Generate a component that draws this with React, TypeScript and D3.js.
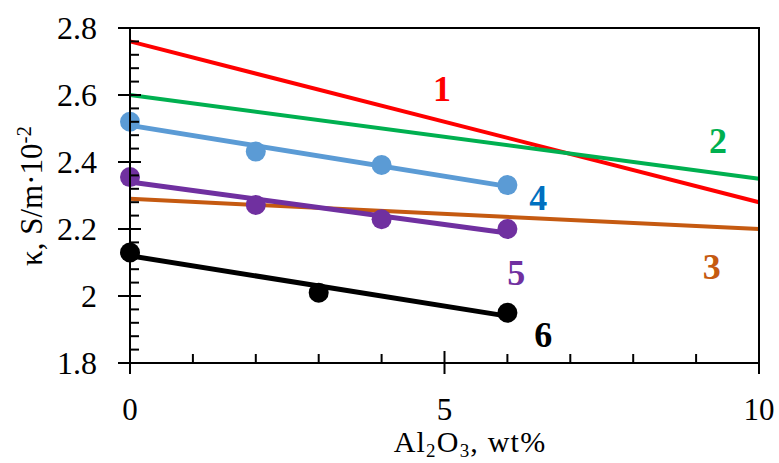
import React from "react";
import * as d3 from "d3";

// ---- data ----
const lineX = [0, 10];
const series1 = [2.76, 2.28];
const series2 = [2.6, 2.35];
const series3 = [2.29, 2.2];

const pointsX4 = [0, 2, 4, 6];
const series4 = [2.52, 2.431, 2.391, 2.331];
const pointsX5 = [0, 2, 4, 6];
const series5 = [2.355, 2.272, 2.229, 2.2];
const pointsX6 = [0, 3, 6];
const series6 = [2.13, 2.01, 1.95];

const xMajorTicks = [0, 5, 10];
const xMinorTicks = [1, 2, 3, 4, 6, 7, 8, 9];
const yMajorTicks = [1.8, 2, 2.2, 2.4, 2.6, 2.8];
const yTickLabels = ["1.8", "2", "2.2", "2.4", "2.6", "2.8"];

const labelNames = ["1", "2", "3", "4", "5", "6"];
const labelX = [4.96, 9.35, 9.25, 6.49, 6.14, 6.57];
const labelY = [2.621, 2.464, 2.087, 2.293, 2.069, 1.884];

const colors = ["#FF0000", "#00B050", "#C55A11", "#5B9BD5", "#7030A0", "#000000"];
const labelColors = ["#FF0000", "#00B050", "#C55A11", "#0070C0", "#7030A0", "#000000"];

const FONT = "'Liberation Serif', 'DejaVu Serif', serif";

function fit(xs: number[], ys: number[]) {
  const mx = d3.mean(xs) as number;
  const my = d3.mean(ys) as number;
  let num = 0, den = 0;
  xs.forEach((x, i) => { num += (x - mx) * (ys[i] - my); den += (x - mx) ** 2; });
  const b = num / den;
  const a = my - b * mx;
  const x0 = d3.min(xs) as number, x1 = d3.max(xs) as number;
  return [[x0, a + b * x0], [x1, a + b * x1]] as [number, number][];
}

export default function App() {
  const W = 779, H = 463;
  const x = d3.scaleLinear().domain([0, 10]).range([130, 759]);
  const y = d3.scaleLinear().domain([1.8, 2.8]).range([363, 28]);
  const line = d3.line<[number, number]>().x(d => x(d[0])).y(d => y(d[1]));

  const yMinor: number[] = [];
  for (let v = 1.84; v < 2.8; v += 0.04) {
    if (!yMajorTicks.some(m => Math.abs(m - v) < 1e-6)) yMinor.push(v);
  }

  const straight = [series1, series2, series3];
  const scatter = [
    { xs: pointsX4, ys: series4, c: colors[3] },
    { xs: pointsX5, ys: series5, c: colors[4] },
    { xs: pointsX6, ys: series6, c: colors[5] },
  ];

  return (
    <svg width={W} height={H} style={{ position: "absolute", left: 0, top: 0, background: "#fff" }} fontFamily={FONT}>
      {/* straight lines */}
      {straight.map((s, i) => (
        <path key={"s" + i} d={line(lineX.map((v, j) => [v, s[j]]) as [number, number][]) || ""} fill="none" stroke={colors[i]} strokeWidth={4} />
      ))}
      {/* trend lines and points */}
      {scatter.map((s, i) => (
        <g key={"sc" + i}>
          <path d={line(fit(s.xs, s.ys)) || ""} fill="none" stroke={s.c} strokeWidth={5} />
          {s.xs.map((v, j) => (
            <circle key={j} cx={x(v)} cy={y(s.ys[j])} r={10} fill={s.c} />
          ))}
        </g>
      ))}
      {/* frame */}
      <g stroke="#000" strokeWidth={2} fill="none">
        <rect x={x(0)} y={y(2.8)} width={x(10) - x(0)} height={y(1.8) - y(2.8)} />
        {yMajorTicks.map(v => <line key={"ym" + v} x1={x(0) - 12} x2={x(0) + 11} y1={y(v)} y2={y(v)} />)}
        {yMinor.map(v => <line key={"yn" + v} x1={x(0)} x2={x(0) + 9} y1={y(v)} y2={y(v)} />)}
        {xMajorTicks.map(v => <line key={"xm" + v} x1={x(v)} x2={x(v)} y1={y(1.8) - 12} y2={y(1.8) + 11} />)}
        {xMinorTicks.map(v => <line key={"xn" + v} x1={x(v)} x2={x(v)} y1={y(1.8) - 9} y2={y(1.8)} />)}
      </g>
      {/* tick labels */}
      {yMajorTicks.map((v, i) => (
        <text key={"yl" + v} x={97} y={y(v)} dy="0.33em" textAnchor="end" fontSize={32}>{yTickLabels[i]}</text>
      ))}
      {xMajorTicks.map(v => (
        <text key={"xl" + v} x={x(v)} y={420} textAnchor="middle" fontSize={31}>{v}</text>
      ))}
      {/* axis titles */}
      <text x={470} y={452} textAnchor="middle" fontSize={30} letterSpacing={1.2}>
        Al<tspan fontSize={19} dy={5}>2</tspan><tspan dy={-5}>O</tspan><tspan fontSize={19} dy={5}>3</tspan><tspan dy={-5}>, wt%</tspan>
      </text>
      <text transform="translate(42,196) rotate(-90)" textAnchor="middle" fontSize={31}>
        κ, S/m·10<tspan fontSize={21} dy={-11}>-2</tspan>
      </text>
      {/* series labels */}
      {labelNames.map((n, i) => (
        <text key={"lab" + n} x={x(labelX[i])} y={y(labelY[i])} dy="0.35em" textAnchor="middle" fontSize={36} fontWeight="bold" fill={labelColors[i]}>{n}</text>
      ))}
    </svg>
  );
}
